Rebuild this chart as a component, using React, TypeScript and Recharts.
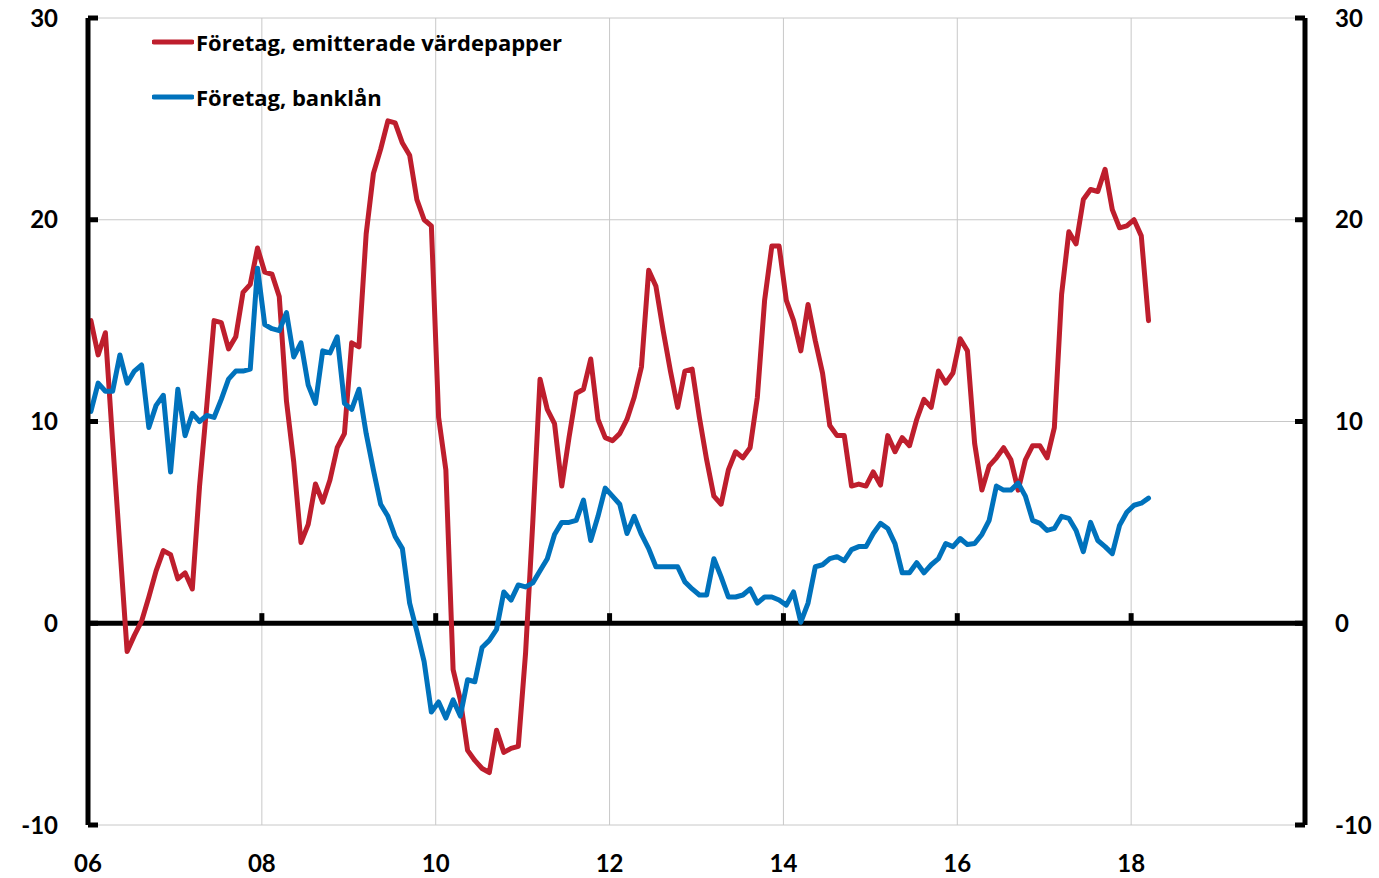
import React from 'react';
import { LineChart, Line, XAxis, YAxis, CartesianGrid, ReferenceLine, Legend } from 'recharts';

const START_YEAR = 2006;
const xTicks = [2006, 2008, 2010, 2012, 2014, 2016, 2018, 2020];
const xTickLabels = ['06', '08', '10', '12', '14', '16', '18', ''];
const xInnerTicks = [2008, 2010, 2012, 2014, 2016, 2018];
const yTicks = [-10, 0, 10, 20, 30];
const seriesNames = ['Företag, emitterade värdepapper', 'Företag, banklån'];
const seriesColors = ['#BE1E2D', '#0072BC'];

// Monthly values, Jan 2006 – Mar 2018
const issuedSecurities = [
  15.0, 13.3, 14.4, 9.0, 3.8, -1.4, -0.6, 0.1, 1.3, 2.6, 3.6, 3.4,
  2.2, 2.5, 1.7, 6.8, 10.8, 15.0, 14.9, 13.6, 14.2, 16.4, 16.8, 18.6,
  17.4, 17.3, 16.2, 11.0, 8.0, 4.0, 4.9, 6.9, 6.0, 7.1, 8.7, 9.4,
  13.9, 13.7, 19.3, 22.3, 23.5, 24.9, 24.8, 23.8, 23.2, 21.0, 20.0, 19.7,
  10.2, 7.6, -2.3, -3.8, -6.3, -6.8, -7.2, -7.4, -5.3, -6.4, -6.2, -6.1,
  -1.5, 5.0, 12.1, 10.6, 9.9, 6.8, 9.2, 11.4, 11.6, 13.1, 10.1, 9.2,
  9.05, 9.4, 10.1, 11.2, 12.7, 17.5, 16.7, 14.5, 12.5, 10.7, 12.5, 12.6,
  10.2, 8.1, 6.3, 5.9, 7.6, 8.5, 8.2, 8.7, 11.2, 16.0, 18.7, 18.7,
  16.0, 15.0, 13.5, 15.8, 14.0, 12.4, 9.8, 9.3, 9.3, 6.8, 6.9, 6.8,
  7.5, 6.85, 9.3, 8.5, 9.2, 8.8, 10.1, 11.1, 10.7, 12.5, 11.9, 12.4,
  14.1, 13.5, 8.9, 6.6, 7.8, 8.2, 8.7, 8.1, 6.6, 8.1, 8.8, 8.8,
  8.2, 9.7, 16.3, 19.4, 18.8, 21.0, 21.5, 21.4, 22.5, 20.5, 19.6, 19.7,
  20.0, 19.2, 15.0,
];

const bankLoans = [
  10.5, 11.9, 11.5, 11.5, 13.3, 11.9, 12.5, 12.8, 9.7, 10.8, 11.3, 7.5,
  11.6, 9.3, 10.4, 10.0, 10.3, 10.2, 11.1, 12.1, 12.5, 12.5, 12.6, 17.6,
  14.8, 14.6, 14.5, 15.4, 13.2, 13.9, 11.8, 10.9, 13.5, 13.4, 14.2, 10.9,
  10.6, 11.6, 9.4, 7.6, 5.9, 5.3, 4.3, 3.7, 1.0, -0.4, -1.9, -4.4,
  -3.9, -4.7, -3.8, -4.6, -2.8, -2.9, -1.2, -0.85, -0.3, 1.55, 1.15, 1.9,
  1.8, 2.0, 2.6, 3.2, 4.4, 5.0, 5.0, 5.1, 6.1, 4.1, 5.3, 6.7,
  6.3, 5.9, 4.45, 5.3, 4.4, 3.7, 2.8, 2.8, 2.8, 2.8, 2.05, 1.7,
  1.4, 1.4, 3.2, 2.3, 1.3, 1.3, 1.4, 1.7, 1.0, 1.3, 1.3, 1.15,
  0.9, 1.55, 0.05, 1.0, 2.8, 2.9, 3.2, 3.3, 3.1, 3.65, 3.8, 3.8,
  4.45, 4.95, 4.7, 3.95, 2.5, 2.5, 3.0, 2.5, 2.9, 3.2, 3.95, 3.8,
  4.2, 3.9, 3.95, 4.4, 5.1, 6.8, 6.6, 6.6, 6.95, 6.3, 5.1, 4.95,
  4.6, 4.7, 5.3, 5.2, 4.6, 3.55, 5.0, 4.1, 3.8, 3.45, 4.85, 5.5,
  5.85, 5.95, 6.2,
];

const data = issuedSecurities.map((v, i) => ({
  t: START_YEAR + (i + 0.4) / 12,
  securities: v,
  loans: bankLoans[i],
}));

const FONT = 'Lato, "Open Sans", sans-serif';
const LEGEND_FONT = '"Open Sans", Lato, sans-serif';
const TICK_FONT_SIZE = 24;
const TICK_LEN = 10;
const LABEL_GAP = 30;

const LeftTick = (props: any) => {
  const { x, y, payload } = props;
  return (
    <g>
      <line x1={x + LABEL_GAP} x2={x + LABEL_GAP + TICK_LEN} y1={y} y2={y} stroke="#000" strokeWidth={5} />
      <text x={x} y={y} dy="0.36em" textAnchor="end" fontFamily={FONT} fontWeight={700} fontSize={TICK_FONT_SIZE} fill="#000">
        {payload.value}
      </text>
    </g>
  );
};

const RightTick = (props: any) => {
  const { x, y, payload } = props;
  return (
    <g>
      <line x1={x - LABEL_GAP} x2={x - LABEL_GAP - TICK_LEN} y1={y} y2={y} stroke="#000" strokeWidth={5} />
      <text x={x} y={y} dy="0.36em" textAnchor="start" fontFamily={FONT} fontWeight={700} fontSize={TICK_FONT_SIZE} fill="#000">
        {payload.value}
      </text>
    </g>
  );
};

const BottomTick = (props: any) => {
  const { x, y, payload } = props;
  const idx = xTicks.indexOf(payload.value);
  const label = idx >= 0 ? xTickLabels[idx] : '';
  return (
    <text x={x} y={y} dy="0.36em" textAnchor="middle" fontFamily={FONT} fontWeight={700} fontSize={TICK_FONT_SIZE} fill="#000">
      {label}
    </text>
  );
};

const LegendContent = () => (
  <div style={{ fontFamily: LEGEND_FONT, fontWeight: 700, fontSize: 22, color: '#000' }}>
    {seriesNames.map((name, i) => (
      <div key={name} style={{ display: 'flex', alignItems: 'center', height: 55, whiteSpace: 'nowrap' }}>
        <svg width={42} height={8} style={{ marginRight: 2 }}>
          <line x1={2} x2={40} y1={4} y2={4} stroke={seriesColors[i]} strokeWidth={5} strokeLinecap="round" />
        </svg>
        <span>{name}</span>
      </div>
    ))}
  </div>
);

export default function App() {
  return (
    <div style={{ position: 'absolute', left: 0, top: 0, width: 1379, height: 878, background: '#fff' }}>
      <LineChart width={1379} height={878} data={data} margin={{ top: 18, right: 0, bottom: 0, left: 0 }}>
        <CartesianGrid stroke="#c8c8c8" strokeWidth={1} />
        <XAxis
          dataKey="t"
          type="number"
          domain={[2006, 2020]}
          ticks={xTicks}
          interval={0}
          axisLine={false}
          tickLine={false}
          tickSize={0}
          tickMargin={38}
          height={53}
          tick={<BottomTick />}
          allowDataOverflow
        />
        <YAxis
          yAxisId={0}
          domain={[-10, 30]}
          ticks={yTicks}
          interval={0}
          width={88}
          axisLine={{ stroke: '#000', strokeWidth: 5 }}
          tickLine={false}
          tickSize={0}
          tickMargin={LABEL_GAP}
          tick={<LeftTick />}
          allowDataOverflow
        />
        <YAxis
          yAxisId="right"
          orientation="right"
          domain={[-10, 30]}
          ticks={yTicks}
          interval={0}
          width={74}
          axisLine={{ stroke: '#000', strokeWidth: 5 }}
          tickLine={false}
          tickSize={0}
          tickMargin={LABEL_GAP}
          tick={<RightTick />}
          allowDataOverflow
        />
        <ReferenceLine y={0} stroke="#000" strokeWidth={5} />
        {xInnerTicks.map((t) => (
          <ReferenceLine
            key={t}
            segment={[{ x: t, y: 0 }, { x: t, y: 0.5 }]}
            stroke="#000"
            strokeWidth={5}
          />
        ))}
        <Legend
          layout="vertical"
          align="center"
          verticalAlign="middle"
          wrapperStyle={{ position: 'absolute', left: 152, top: 14, width: 'auto', height: 'auto' }}
          content={<LegendContent />}
        />
        <Line
          type="linear"
          dataKey="securities"
          yAxisId={0}
          name={seriesNames[0]}
          stroke={seriesColors[0]}
          strokeWidth={5}
          strokeLinejoin="round"
          strokeLinecap="round"
          dot={false}
          activeDot={false}
          isAnimationActive={false}
        />
        <Line
          type="linear"
          dataKey="loans"
          yAxisId="right"
          name={seriesNames[1]}
          stroke={seriesColors[1]}
          strokeWidth={5}
          strokeLinejoin="round"
          strokeLinecap="round"
          dot={false}
          activeDot={false}
          isAnimationActive={false}
        />
      </LineChart>
    </div>
  );
}
